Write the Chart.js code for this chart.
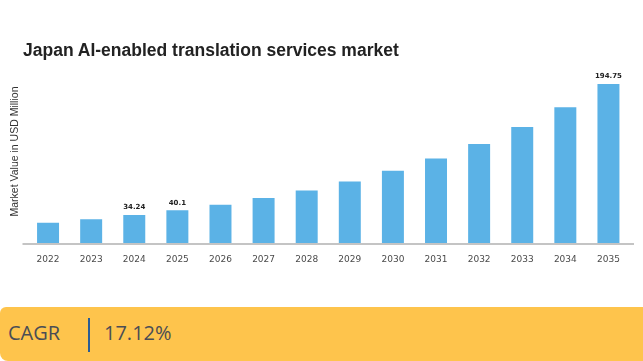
<!DOCTYPE html>
<html>
<head>
<meta charset="utf-8">
<script src="https://cdn.jsdelivr.net/npm/chart.js@4.4.1/dist/chart.umd.min.js"></script>
<style>
  body { margin: 0; background: #fff; width: 643px; height: 361px; overflow: hidden; position: relative; }
  #wrap { position: absolute; left: 0; top: 0; width: 643px; height: 307px; }
  .titulo {
    position: absolute; left: 23px; top: 40px; white-space: nowrap;
    font-family: "Liberation Sans", Arial, sans-serif; font-weight: bold; font-size: 17.5px; color: #222;
  }
  .cagr {
    position: absolute; left: 0; top: 307px; width: 643px; height: 54px;
    background: #fec44c; border-radius: 6px 0 0 8px;
    font-family: "Open Sans", sans-serif; font-size: 20px; color: #4a4d55;
  }
  .cagr .lbl { position: absolute; left: 8px; top: 12px; }
  .cagr .sep { position: absolute; left: 88px; top: 11px; width: 1.5px; height: 34px; background: #2a5d95; }
  .cagr .val { position: absolute; left: 104px; top: 12px; }
</style>
</head>
<body>
<div id="wrap"><canvas id="grafico"></canvas></div>
<div class="titulo">Japan AI-enabled translation services market</div>
<div class="cagr"><span class="lbl">CAGR</span><span class="sep"></span><span class="val">17.12%</span></div>
<script>
// dados do gráfico
const anos = ['2022', '2023', '2024', '2025', '2026', '2027', '2028', '2029', '2030', '2031', '2032', '2033', '2034', '2035'];
const valores = [24.9, 29.1, 34.24, 40.1, 46.9, 55.1, 64.2, 75.3, 88.3, 103.4, 121.3, 142.1, 166.3, 194.75];
// rótulos mostrados só em alguns anos
const rotulos = ['', '', '34.24', '40.1', '', '', '', '', '', '', '', '', '', '194.75'];

// escreve os rótulos em cima das barras e a linha do eixo x
const rotulosPlugin = {
  id: 'rotulos',
  afterDatasetsDraw(chart) {
    const ctx = chart.ctx;
    const area = chart.chartArea;
    ctx.save();
    ctx.strokeStyle = '#c4c4c4';
    ctx.lineWidth = 2;
    ctx.beginPath();
    ctx.moveTo(area.left - 4, area.bottom + 1);
    ctx.lineTo(area.right + 4, area.bottom + 1);
    ctx.stroke();

    ctx.fillStyle = '#222';
    ctx.font = 'bold 7px "DejaVu Sans"';
    ctx.textAlign = 'center';
    ctx.textBaseline = 'bottom';
    chart.getDatasetMeta(0).data.forEach((bar, i) => {
      if (rotulos[i]) ctx.fillText(rotulos[i], bar.x, bar.y - 4);
    });
    ctx.restore();
  }
};

new Chart(document.getElementById('grafico'), {
  type: 'bar',
  data: {
    labels: anos,
    datasets: [{
      data: valores,
      backgroundColor: '#5bb2e6',
      borderWidth: 0,
      categoryPercentage: 1,
      barPercentage: 0.51
    }]
  },
  options: {
    responsive: true,
    maintainAspectRatio: false,
    animation: false,
    layout: { padding: { left: 0, right: 13, top: 60, bottom: 44 } },
    scales: {
      x: {
        grid: { display: false },
        border: { display: false },
        ticks: { color: '#4a4a4a', padding: 3, font: { family: 'DejaVu Sans', size: 9 } },
        afterFit: s => { s.height = 20; }
      },
      y: {
        min: 0,
        max: 224,
        grid: { display: false },
        border: { display: false },
        ticks: { display: false },
        title: {
          display: true,
          text: 'Market Value in USD Million',
          color: '#333',
          font: { family: 'Liberation Sans', size: 10.5 },
          padding: { top: 9, bottom: 0 }
        },
        afterFit: s => { s.width = 26.5; }
      }
    },
    plugins: {
      legend: { display: false },
      tooltip: { enabled: false }
    }
  },
  plugins: [rotulosPlugin]
});
</script>
</body>
</html>
